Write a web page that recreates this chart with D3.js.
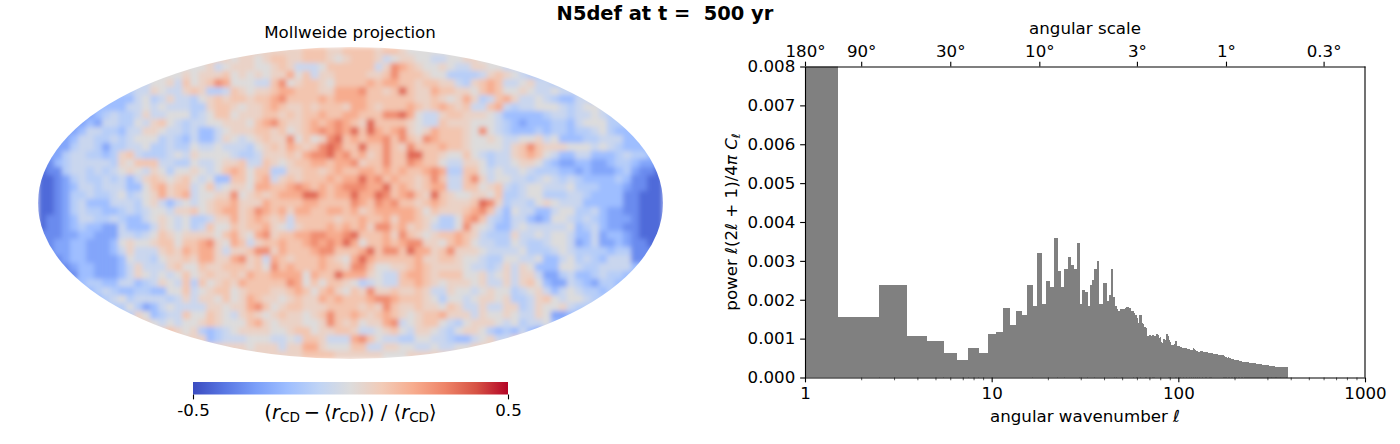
<!DOCTYPE html>
<html>
<head>
<meta charset="utf-8">
<script src="https://cdn.jsdelivr.net/npm/d3@7"></script>
<style>
  html, body { margin: 0; padding: 0; background: #fff; }
  svg { display: block; }
  text { font-family: 'DejaVu Sans', sans-serif; fill: #000; }
</style>
</head>
<body>
<div id="chart"></div>
<script>
// map levels
const levelValues = [-0.43, -0.35, -0.28, -0.2, -0.13, -0.07, 0, 0.06, 0.12, 0.2, 0.28, 0.36];
const levelKeys = '0123456789AB';

// one string per row of the map, top to bottom, one char per column
const mapRows = [
  '7777777777777777777777777777777' + '77888778' + '888788766' + '666666666666666666666666666666',
  '777777777777777777777777' + '677678877888767' + '8887567766556677' + '66666666666666666666666',
  '66666666666666666666' + '6756777667875556888' + '88857A9876676557766' + '55555555555555555555',
  '66666666666666666' + '6767778676767796857788' + '88778A8887664444578765' + '44444444444444444',
  '55555555555555' + '66758678A9' + '666558A678' + '87688' + '8898998878' + '8775478985' + '56755' + '44444444444444',
  '444444444444' + '5576557874' + '4587677899' + '8887799' + '9A8878B877' + '9887768986' + '67655655' + '44444444444',
  '3333333333' + '3356457554' + '6787887889' + 'A88889899' + '9988888877' + '8767974589' + '7556543355' + '333333333',
  '33333333' + '33355656555' + '44788767789877878887' + '9987888987' + '8987855895' + '45566654566' + '55555555',
  '2222222' + '345445755666' + '45688677788787889889' + '9888AAB965' + '5788777653' + '333345545565' + '4444444',
  '222222' + '3255446578654' + '5566777689A8778989A9' + '87B8888765' + '5877766654' + '3233344356664' + '444444',
  '22222' + '35544355776554' + '5335677788786789A9A9' + 'B8B989A767' + '988876A654' + '33343443445643' + '33333',
  '2222' + '355445456664543' + '533576567877A6867AB8' + '9899A8A87A' + '9888766765' + '5667563334455533' + '333',
  '222' + '2455424455644544' + '6556555467879878ABA8' + '8B88A87A88' + '8988766665' + '78A87776665654333' + '22',
  '22' + '24554434785444565' + '766665445777879AAB9A' + '8978A88BB8' + '8766865455' + '789865335533345443' + '2',
  '1134555554768885544' + '65567785587678899899' + 'A788A88A98' + '8655776455' + '6776432233223443221',
  '0114554545676576466' + '76568986884477887898' + '8998989889' + 'A944886565' + '5654443323222342110',
  '0012454454535787678' + '65633886895787888989' + '9B9A898878' + 'A8558A7566' + '5545654543333431100',
  '0012355455533689788' + '5685677699889A98989A' + 'AA99B89878' + '9955886785' + '4566555644433321100',
  '0012445445645679789' + '56677A67878999BB9899' + 'B99BA89A87' + 'B876677684' + '4566444554333311000',
  '0012453335554675356' + '56788977798888998888' + 'A98A9A8878' + '987778BA74' + '5546765553333311000',
  '0012454433454566577' + '86789978A98979988998' + '9789999986' + '877789A853' + '6553356644532211000',
  '0112355445433567656' + '44577978987858888878' + '8988979987' + '64469A8543' + '5532366545432221000',
  '0112343322533357656' + '45866878897657888989' + '897AA89787' + '5446A76533' + '5655555634532211000',
  '1112233222554568767' + '777689769A78899AA99A' + 'B88897A876' + '7889875444' + '7556566533523321000',
  '1122332223676678868' + '89A7698578' + '89889A9A9B' + '9688989AA7' + '7689865544' + '6544566523522321100',
  '1122332223575557879' + '89975778AA' + '798889AA88' + '89B8AA8B99' + '78A7776555' + '5644456544443441111',
  '1112332222365546778' + '799779A785' + '9878889876' + '9B98888897' + '7887665446' + '6556335645435551111',
  '1111233222357555786' + '6877888786' + 'A898889887' + 'AA86677898' + '7777655457' + '5763336654455553333',
  '2211133222357656568' + '6787787988' + '99996988B9' + '9976558998' + '7888667567' + '5775224533454433333',
  '3333334433553457658' + '4867879888' + '88A9686887' + '6456558898' + '7677767557' + '5786322543244333333',
  '3333333454334433668' + '5678867888' + '7789868976' + '87A7787787' + '5576656766' + '4567535654434333333',
  '3333333345645555457' + '5776867987' + '7678779898' + '889AA98887' + '6466567767' + '4457865665443333333',
  '4444444444464235655' + '55776779A8' + '6788777888' + '8787A87787' + '7687557557' + '7457667544444444444',
  '4444444444447634558' + '6687657876' + '7877678A88' + '9878987678' + '8977757667' + '6557622333333333333',
  '7777777777777765656' + '6787666897' + '6777667A87' + '86779A5678' + '8654677765' + '6455633333333333333',
  '7777777777777777876' + '7434567777' + '6678867788' + '7556786577' + '6546776434' + '3532333333333333333',
  '7777777777777777777' + '7734555666' + '5565887555' + '9A86554466' + '5543356755' + '7777777777777777777',
  '7777777777777777777' + '7777777677' + '7577997666' + '8855776655' + '6556677788' + '7777777777777777777',
  '7777777777777777777' + '7777777777' + '7777888877' + '7777666777' + '7777777777' + '7777777777777777777',
];

// coolwarm, sampled every 0.1 of the colour bar
const cbColors = ['#3b4cc0', '#5977e3', '#7b9ff9', '#9ebeff', '#c0d4f5', '#dddcdc', '#f2cbb7', '#f7ac8e', '#ee8468', '#d65244', '#b40426'];
const cbTicks = [-0.5, 0.5];

// power per angular wavenumber, l = 1, 2, 3 ...
const powerLow = [
  0.02, 0.00155, 0.00239, 0.00108, 0.00093, 0.00064, 0.00046, 0.00075, 0.00064, 0.00111,
  0.00116, 0.0018, 0.00134, 0.0017, 0.00162, 0.00237, 0.00185, 0.00319, 0.00188, 0.00247,
  0.00234, 0.0036, 0.00273, 0.00234, 0.0028, 0.00311, 0.0029, 0.0028, 0.00345, 0.0019,
  0.00226, 0.00219, 0.00185, 0.00237, 0.0025, 0.00278, 0.003, 0.00188, 0.00188, 0.00244,
  0.00244, 0.00198, 0.00211, 0.0028, 0.00208, 0.00183, 0.00177,
];
// l = 48 ... 383, in units of 1e-5
const powerHigh = [
  172, 176, 177, 176, 178, 181, 182, 179, 172, 171, 167, 161, 153, 140, 162, 161, 139, 138, 129, 128,
  108, 108, 109, 109, 108, 109, 108, 106, 111, 111, 110, 101, 103, 92, 90, 98, 98, 96, 111, 111,
  108, 96, 92, 84, 83, 84, 83, 86, 92, 93, 84, 80, 82,
  80, 78, 77, 78, 77, 77, 76, 76, 75, 76, 74, 74, 73, 73, 72, 72, 71, 71, 70, 74,
  77, 74, 70, 69, 68, 67, 66, 65, 66, 66, 67, 68, 68, 67, 67, 66, 66, 65, 65, 64, 64,
  66, 65, 65, 64, 64, 63, 63, 64, 63, 63, 62, 62, 61, 61, 61, 61, 60, 60, 60, 60,
  60, 59, 59, 59, 58, 58, 58, 57, 57, 58, 59, 58, 57, 56, 56, 55, 54, 53, 53, 52,
  52, 51, 52, 52, 51, 51, 50, 50, 49, 49, 48, 48, 48, 47, 47, 47, 46, 46, 46, 45,
  45, 45, 44, 45, 45, 44, 44, 44, 44, 43, 43, 43, 43, 43, 42, 42, 42, 41, 41, 41,
  41, 41, 41, 40, 40, 40, 40, 40, 40, 39, 39, 39, 39, 39, 39, 39, 39, 39, 38, 38,
  38, 38, 38, 38, 38, 38, 38, 38, 38, 38, 38, 38, 38, 38, 38, 37, 37, 37, 36, 36,
  36, 36, 36, 35, 35, 35, 35, 35, 35, 35, 34, 34, 34, 34, 34, 34, 34, 34, 33, 33,
  33, 33, 33, 33, 33, 32, 32, 32, 32, 32, 32, 32, 32, 32, 31, 31, 31, 31, 31, 31,
  31, 31, 31, 30, 30, 30, 30, 30, 30, 30, 30, 30, 30, 29, 29, 29, 29, 29, 29, 29,
  29, 29, 29, 29, 29, 28, 28, 28, 28, 28, 28, 28, 28, 28, 28, 28, 28, 28, 28, 27,
  27, 27, 27, 27, 27, 27, 27, 27, 27, 27, 27, 27, 27, 27, 27, 27, 27, 27, 27, 27,
  27, 27, 27, 27, 27, 27, 27, 27, 27, 27, 27, 27, 27, 27, 27, 27, 27, 27, 27, 27, 26, 26, 26, 26,
];

const xMajor = [1, 10, 100, 1000];
const xMinor = [2, 3, 4, 5, 6, 7, 8, 9, 20, 30, 40, 50, 60, 70, 80, 90, 200, 300, 400, 500, 600, 700, 800, 900];
const yTicks = [0, 0.001, 0.002, 0.003, 0.004, 0.005, 0.006, 0.007, 0.008];
const angleTicks = [180, 90, 30, 10, 3, 1, 0.3];

const power = powerLow.concat(powerHigh.map((d) => d * 1e-5));

const fontPx = 16.67;
const tickLen = 4.86;
const minorLen = 2.78;
const tickPad = 4.86;
const lineW = 1.11;

const svg = d3
  .select('#chart')
  .append('svg')
  .attr('width', 1400)
  .attr('height', 444);

svg
  .append('text')
  .attr('x', 665)
  .attr('y', 20)
  .attr('text-anchor', 'middle')
  .attr('font-size', 19.44)
  .attr('font-weight', 'bold')
  .style('white-space', 'pre')
  .text('N5def at t =  500 yr');

// ---- Mollweide map ----
const map = { cx: 350.5, cy: 203, rx: 312.5, ry: 156 };
const defs = svg.append('defs');

defs
  .append('clipPath')
  .attr('id', 'map-clip')
  .append('ellipse')
  .attr('cx', map.cx)
  .attr('cy', map.cy)
  .attr('rx', map.rx)
  .attr('ry', map.ry);

defs
  .append('filter')
  .attr('id', 'map-soft')
  .attr('filterUnits', 'userSpaceOnUse')
  .attr('x', 0)
  .attr('y', 20)
  .attr('width', 700)
  .attr('height', 370)
  .append('feGaussianBlur')
  .attr('stdDeviation', 2.8);

const colScale = d3
  .scaleBand()
  .domain(d3.range(mapRows[0].length))
  .range([map.cx - map.rx, map.cx + map.rx]);
const rowScale = d3
  .scaleBand()
  .domain(d3.range(mapRows.length))
  .range([map.cy - map.ry, map.cy + map.ry]);
const colorScale = d3
  .scaleLinear()
  .domain(cbColors.map((d, i) => -0.5 + i * 0.1))
  .range(cbColors);

const cells = mapRows.flatMap((row, r) =>
  row.split('').map((ch, c) => ({ r, c, v: levelValues[levelKeys.indexOf(ch)] }))
);

svg
  .append('g')
  .attr('clip-path', 'url(#map-clip)')
  .append('g')
  .attr('filter', 'url(#map-soft)')
  .selectAll('rect')
  .data(cells)
  .enter()
  .append('rect')
  .attr('x', (d) => colScale(d.c))
  .attr('y', (d) => rowScale(d.r))
  .attr('width', colScale.bandwidth() + 0.5)
  .attr('height', rowScale.bandwidth() + 0.5)
  .attr('fill', (d) => colorScale(d.v));

svg
  .append('text')
  .attr('x', 350)
  .attr('y', 38)
  .attr('text-anchor', 'middle')
  .attr('font-size', fontPx)
  .text('Mollweide projection');

// ---- colour bar ----
const cbScale = d3.scaleLinear().domain([-0.5, 0.5]).range([193, 508]);
const grad = defs.append('linearGradient').attr('id', 'cb-grad');
cbColors.forEach((c, i) => {
  grad
    .append('stop')
    .attr('offset', i * 10 + '%')
    .attr('stop-color', c);
});
svg
  .append('rect')
  .attr('x', cbScale(-0.5))
  .attr('y', 382)
  .attr('width', cbScale(0.5) - cbScale(-0.5))
  .attr('height', 12.5)
  .attr('fill', 'url(#cb-grad)');

const styleAxis = (g) => {
  g.selectAll('line').attr('stroke-width', lineW);
  g.select('.domain').attr('stroke-width', lineW);
  g.selectAll('text').attr('font-size', fontPx).attr('font-family', null);
};

const cbAxis = svg
  .append('g')
  .attr('transform', 'translate(0, 394.5)')
  .call(
    d3
      .axisBottom(cbScale)
      .tickValues(cbTicks)
      .tickSize(tickLen)
      .tickPadding(tickPad)
      .tickFormat((d) => (d < 0 ? '-0.5' : '0.5'))
  )
  .call(styleAxis);
cbAxis.select('.domain').remove();

const cbLabel = svg
  .append('text')
  .attr('x', 350.5)
  .attr('y', 419)
  .attr('text-anchor', 'middle')
  .attr('font-size', 19.44);
cbLabel.append('tspan').text('(');
cbLabel.append('tspan').attr('font-style', 'italic').text('r');
cbLabel.append('tspan').attr('font-size', 13.6).attr('dy', 3).text('CD');
cbLabel.append('tspan').attr('dy', -3).text('\u2009−\u2009⟨');
cbLabel.append('tspan').attr('font-style', 'italic').text('r');
cbLabel.append('tspan').attr('font-size', 13.6).attr('dy', 3).text('CD');
cbLabel.append('tspan').attr('dy', -3).text('⟩) / ⟨');
cbLabel.append('tspan').attr('font-style', 'italic').text('r');
cbLabel.append('tspan').attr('font-size', 13.6).attr('dy', 3).text('CD');
cbLabel.append('tspan').attr('dy', -3).text('⟩');

// ---- power spectrum ----
const plot = { left: 805, right: 1365, top: 66.5, bottom: 377.5 };
const x = d3.scaleLog().domain([1, 1000]).range([plot.left, plot.right]);
const y = d3.scaleLinear().domain([0, 0.008]).range([plot.bottom, plot.top]);

defs
  .append('clipPath')
  .attr('id', 'plot-clip')
  .append('rect')
  .attr('x', plot.left)
  .attr('y', plot.top)
  .attr('width', plot.right - plot.left)
  .attr('height', plot.bottom - plot.top);

svg
  .append('g')
  .attr('clip-path', 'url(#plot-clip)')
  .selectAll('rect')
  .data(power)
  .enter()
  .append('rect')
  .attr('x', (d, i) => x(Math.max(i + 0.5, 1)))
  .attr('y', (d) => y(d))
  .attr('width', (d, i) => x(i + 1.5) - x(Math.max(i + 0.5, 1)) + 0.3)
  .attr('height', (d) => y(0) - y(d))
  .attr('fill', '#808080')
  .attr('shape-rendering', 'crispEdges');

const addXminor = () => {
  const g = svg
    .append('g')
    .attr('transform', `translate(0, ${plot.bottom})`)
    .call(d3.axisBottom(x).tickValues(xMinor).tickSize(minorLen).tickSizeOuter(0).tickFormat(''));
  g.select('.domain').remove();
  g.selectAll('line').attr('stroke-width', 0.67);
};

const addXaxis = () => {
  svg
    .append('g')
    .attr('transform', `translate(0, ${plot.bottom})`)
    .call(
      d3
        .axisBottom(x)
        .tickValues(xMajor)
        .tickSize(tickLen)
        .tickSizeOuter(0)
        .tickPadding(tickPad)
        .tickFormat(d3.format('d'))
    )
    .call(styleAxis);
};

const addXtop = () => {
  svg
    .append('g')
    .attr('transform', `translate(0, ${plot.top})`)
    .call(
      d3
        .axisTop(x)
        .tickValues(angleTicks.map((d) => 180 / d))
        .tickSize(tickLen)
        .tickSizeOuter(0)
        .tickPadding(tickPad)
        .tickFormat((d) => +(180 / d).toFixed(1) + '°')
    )
    .call(styleAxis);
};

const addYaxis = () => {
  svg
    .append('g')
    .attr('transform', `translate(${plot.left}, 0)`)
    .call(
      d3
        .axisLeft(y)
        .tickValues(yTicks)
        .tickSize(tickLen)
        .tickSizeOuter(0)
        .tickPadding(tickPad)
        .tickFormat(d3.format('.3f'))
    )
    .call(styleAxis);
};

addXminor();
addXaxis();
addXtop();
addYaxis();

// right spine
svg
  .append('line')
  .attr('x1', plot.right)
  .attr('x2', plot.right)
  .attr('y1', plot.top)
  .attr('y2', plot.bottom)
  .attr('stroke', '#000')
  .attr('stroke-width', lineW);

svg
  .append('text')
  .attr('x', 1085)
  .attr('y', 34)
  .attr('text-anchor', 'middle')
  .attr('font-size', fontPx)
  .text('angular scale');

const xLabel = svg
  .append('text')
  .attr('x', 1085)
  .attr('y', 422)
  .attr('text-anchor', 'middle')
  .attr('font-size', fontPx);
xLabel.append('tspan').text('angular wavenumber ');
xLabel.append('tspan').attr('font-style', 'italic').text('ℓ');

const yLabel = svg
  .append('text')
  .attr('transform', 'translate(737, 222) rotate(-90)')
  .attr('text-anchor', 'middle')
  .attr('font-size', fontPx);
yLabel.append('tspan').text('power ');
yLabel.append('tspan').attr('font-style', 'italic').text('ℓ');
yLabel.append('tspan').text('(2');
yLabel.append('tspan').attr('font-style', 'italic').text('ℓ');
yLabel.append('tspan').text(' + 1)/4');
yLabel.append('tspan').attr('font-style', 'italic').text('π C');
yLabel.append('tspan').attr('font-style', 'italic').attr('font-size', 11.7).attr('dy', 2.5).text('ℓ');
</script>
</body>
</html>
